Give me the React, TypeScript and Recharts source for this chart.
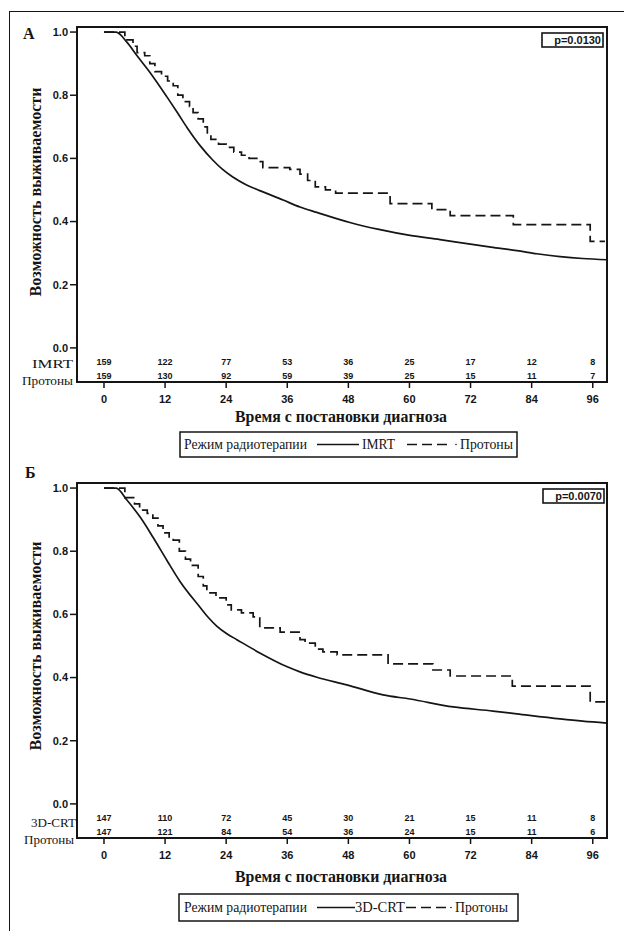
import React from 'react';
import { ComposedChart, Line, Scatter, XAxis, YAxis, ReferenceArea } from 'recharts';

// ---- shared axes ----
const monthTicks = [0, 12, 24, 36, 48, 60, 72, 84, 96];
const survTicks = [0, 0.2, 0.4, 0.6, 0.8, 1.0];

// ---- Panel A: IMRT (solid) ----
const imrtA_t = [0, 2.4, 4.5, 6.5, 9, 12.4, 14.5, 16.3, 19, 21.4, 23.3, 25.3, 28, 30.6, 35.2, 38.5, 41.8, 48.3, 54, 60.1, 66, 71.3, 76, 81.1, 85, 89.6, 94, 98.8];
const imrtA_s = [1, 1, 0.968, 0.925, 0.873, 0.794, 0.743, 0.698, 0.638, 0.594, 0.565, 0.541, 0.516, 0.498, 0.468, 0.446, 0.429, 0.397, 0.375, 0.356, 0.343, 0.33, 0.319, 0.308, 0.298, 0.289, 0.283, 0.279];
// ---- Panel A: Protons (dashed, step) ----
const protA_t = [0, 4.1, 5.7, 6.5, 8.0, 9.0, 10.0, 11.3, 12.5, 13.6, 14.5, 15.5, 16.8, 17.5, 18.5, 19.5, 20.3, 21.0, 22.5, 24.0, 25.5, 27.0, 28.5, 30.5, 31.2, 36.5, 38.5, 40.0, 41.5, 43.5, 45.5, 56.2, 64.4, 68.0, 80.4, 95.5, 98.4];
const protA_s = [1, 0.975, 0.955, 0.935, 0.925, 0.9, 0.875, 0.86, 0.845, 0.83, 0.8, 0.78, 0.765, 0.745, 0.725, 0.7, 0.675, 0.66, 0.645, 0.635, 0.62, 0.61, 0.6, 0.59, 0.571, 0.565, 0.55, 0.53, 0.51, 0.5, 0.49, 0.457, 0.438, 0.419, 0.39, 0.337, 0.337];
const riskA_imrt = [159, 122, 77, 53, 36, 25, 17, 12, 8];
const riskA_prot = [159, 130, 92, 59, 39, 25, 15, 11, 7];

// ---- Panel Б: 3D-CRT (solid) ----
const crtB_t = [0, 2.4, 4.5, 7.1, 9.6, 12.4, 14.9, 18.9, 20.5, 22.2, 24.2, 26.1, 30.6, 36, 38.5, 41.8, 47.7, 54.8, 60.1, 68.6, 76.4, 81.1, 89.6, 94, 98.8];
const crtB_s = [1, 1, 0.962, 0.908, 0.845, 0.77, 0.705, 0.622, 0.59, 0.562, 0.538, 0.52, 0.478, 0.434, 0.418, 0.401, 0.377, 0.345, 0.332, 0.307, 0.294, 0.285, 0.269, 0.262, 0.256];
// ---- Panel Б: Protons (dashed, step) ----
const protB_t = [0, 4.1, 6.0, 7.0, 8.5, 9.6, 10.6, 11.6, 12.8, 13.6, 14.8, 16.0, 17.0, 18.5, 19.5, 20.2, 22.0, 24.0, 25.0, 27.0, 29.3, 30.6, 34.6, 38.5, 39.5, 41.5, 43.0, 45.8, 55.8, 64.6, 68.0, 80.2, 95.5, 98.8];
const protB_s = [1, 0.97, 0.95, 0.93, 0.92, 0.905, 0.88, 0.858, 0.845, 0.835, 0.8, 0.775, 0.755, 0.72, 0.69, 0.668, 0.652, 0.63, 0.614, 0.605, 0.592, 0.557, 0.544, 0.52, 0.509, 0.49, 0.481, 0.472, 0.443, 0.424, 0.405, 0.373, 0.323, 0.323];
const riskB_crt = [147, 110, 72, 45, 30, 21, 15, 11, 8];
const riskB_prot = [147, 121, 84, 54, 36, 24, 15, 11, 6];

const X_MIN = -5.3;
const X_MAX = 98.8;
const Y_MIN = -0.108;
const Y_MAX = 1.016;
const ROW1_Y = -0.044;
const ROW2_Y = -0.089;

const INK = '#151515';
const SANS = '"Liberation Sans", Arial, sans-serif';
const SERIF = '"Liberation Serif", "DejaVu Serif", "Times New Roman", serif';

const zip = (t: number[], s: number[]) => t.map((v, i) => ({ t: v, s: s[i] }));
const riskRow = (n: number[], y: number) => monthTicks.map((m, i) => ({ t: m, y, n: n[i] }));

const RiskText = (props: any) => {
  const { cx, cy, payload } = props;
  if (cx == null || cy == null) return null;
  return (
    <text x={cx} y={cy} textAnchor="middle" dominantBaseline="central" fontFamily={SANS} fontWeight="bold" fontSize={9} fill={INK}>
      {payload.n}
    </text>
  );
};

type PanelProps = {
  solid: { t: number; s: number }[];
  dashed: { t: number; s: number }[];
  row1: number[];
  row2: number[];
};

const Panel = ({ solid, dashed, row1, row2 }: PanelProps) => (
  <ComposedChart width={624} height={430} margin={{ top: 27, right: 17, left: 0, bottom: 18 }}>
    <XAxis
      type="number"
      dataKey="t"
      domain={[X_MIN, X_MAX]}
      ticks={monthTicks}
      allowDataOverflow
      height={30}
      tickSize={6}
      tickMargin={7}
      axisLine={{ stroke: INK, strokeWidth: 2 }}
      tickLine={{ stroke: INK, strokeWidth: 1.5 }}
      tick={{ fontFamily: SANS, fontWeight: 'bold', fontSize: 11, fill: INK }}
    />
    <YAxis
      type="number"
      domain={[Y_MIN, Y_MAX]}
      ticks={survTicks}
      allowDataOverflow
      width={77}
      tickSize={7}
      tickMargin={2}
      tickFormatter={(v: number) => v.toFixed(1)}
      axisLine={{ stroke: INK, strokeWidth: 2 }}
      tickLine={{ stroke: INK, strokeWidth: 1.5 }}
      tick={{ fontFamily: SANS, fontWeight: 'bold', fontSize: 11, fill: INK }}
    />
    <ReferenceArea x1={X_MIN} x2={X_MAX} y1={Y_MIN} y2={Y_MAX} fill="none" fillOpacity={0} stroke={INK} strokeWidth={2} ifOverflow="visible" />
    <Line data={solid} dataKey="s" type="monotone" stroke={INK} strokeWidth={1.7} dot={false} isAnimationActive={false} />
    <Line data={dashed} dataKey="s" type="stepAfter" stroke={INK} strokeWidth={1.7} strokeDasharray="10 5" dot={false} isAnimationActive={false} />
    <Scatter data={riskRow(row1, ROW1_Y)} dataKey="y" shape={RiskText} isAnimationActive={false} />
    <Scatter data={riskRow(row2, ROW2_Y)} dataKey="y" shape={RiskText} isAnimationActive={false} />
  </ComposedChart>
);

type Deco = {
  letter: string; letterX: number; letterY: number;
  titleCY: number;
  pText: string; pX: number; pY: number;
  r1: string; r1X: number; r1Y: number; r1W: number;
  r2X: number; r2Y: number; r2W: number;
  xTitleY: number;
  box: [number, number, number, number];
  solidFrom: number; solidTo: number;
  name: string; nameX: number; nameW: number;
  dashFrom: number; dashTo: number; dotX: number; protX: number;
};

const decoA: Deco = {
  letter: 'А', letterX: 23, letterY: 39, titleCY: 192,
  pText: 'p=0.0130', pX: 542, pY: 33,
  r1: 'IMRT', r1X: 73, r1Y: 364, r1W: 41, r2X: 73, r2Y: 381, r2W: 51,
  xTitleY: 422, box: [180, 432, 337, 25],
  solidFrom: 317, solidTo: 359, name: 'IMRT', nameX: 362, nameW: 33,
  dashFrom: 407, dashTo: 452, dotX: 456, protX: 460,
};
const decoB: Deco = {
  letter: 'Б', letterX: 25, letterY: 478, titleCY: 646,
  pText: 'p=0.0070', pX: 543, pY: 489,
  r1: '3D-CRT', r1X: 76, r1Y: 823, r1W: 45, r2X: 74, r2Y: 840, r2W: 50,
  xTitleY: 882, box: [179, 894, 339, 27],
  solidFrom: 317, solidTo: 355, name: '3D-CRT', nameX: 355, nameW: 50,
  dashFrom: 406, dashTo: 448, dotX: 451, protX: 455,
};

const Decorations = ({ d }: { d: Deco }) => {
  const [bx, by, bw, bh] = d.box;
  const ly = by + bh / 2;
  return (
    <g fill={INK}>
      <text x={d.letterX} y={d.letterY} fontFamily={SERIF} fontWeight="bold" fontSize={16}>{d.letter}</text>
      <text
        x={35} y={d.titleCY}
        transform={`rotate(-90, 35, ${d.titleCY})`}
        textAnchor="middle" dominantBaseline="central"
        fontFamily={SERIF} fontWeight="bold" fontSize={17}
        textLength={209} lengthAdjust="spacingAndGlyphs"
      >Возможность выживаемости</text>
      <rect x={d.pX} y={d.pY} width={61} height={14} fill="#fff" stroke={INK} strokeWidth={1.6} />
      <text x={d.pX + 59} y={d.pY + 11} textAnchor="end" fontFamily={SANS} fontWeight="bold" fontSize={11}>{d.pText}</text>
      <text x={d.r1X} y={d.r1Y} textAnchor="end" dominantBaseline="central" fontFamily={SERIF} fontSize={12.5}
        textLength={d.r1W} lengthAdjust="spacingAndGlyphs">{d.r1}</text>
      <text x={d.r2X} y={d.r2Y} textAnchor="end" dominantBaseline="central" fontFamily={SERIF} fontSize={12.5}
        textLength={d.r2W} lengthAdjust="spacingAndGlyphs">Протоны</text>
      <text x={341} y={d.xTitleY} textAnchor="middle" fontFamily={SERIF} fontWeight="bold" fontSize={16}
        textLength={212} lengthAdjust="spacingAndGlyphs">Время с постановки диагноза</text>
      <rect x={bx} y={by} width={bw} height={bh} fill="#fff" stroke={INK} strokeWidth={1.5} />
      <text x={184} y={ly + 4.5} fontFamily={SERIF} fontSize={14} textLength={123} lengthAdjust="spacingAndGlyphs">Режим радиотерапии</text>
      <line x1={d.solidFrom} x2={d.solidTo} y1={ly} y2={ly} stroke={INK} strokeWidth={1.4} />
      <text x={d.nameX} y={ly + 4.5} fontFamily={SERIF} fontSize={14} textLength={d.nameW} lengthAdjust="spacingAndGlyphs">{d.name}</text>
      <line x1={d.dashFrom} x2={d.dashTo} y1={ly} y2={ly} stroke={INK} strokeWidth={1.4} strokeDasharray="10 5" />
      <circle cx={d.dotX} cy={ly} r={0.8} />
      <text x={d.protX} y={ly + 4.5} fontFamily={SERIF} fontSize={14} textLength={53} lengthAdjust="spacingAndGlyphs">Протоны</text>
    </g>
  );
};

export default function App() {
  return (
    <div style={{ position: 'absolute', left: 0, top: 0, width: 624, height: 931, background: '#fff', overflow: 'hidden' }}>
      <div style={{ position: 'absolute', left: 9, top: 11, width: 640, height: 940, borderLeft: `1.5px solid ${INK}`, borderTop: `1.5px solid ${INK}` }} />
      <div style={{ position: 'absolute', left: 0, top: 0 }}>
        <Panel solid={zip(imrtA_t, imrtA_s)} dashed={zip(protA_t, protA_s)} row1={riskA_imrt} row2={riskA_prot} />
      </div>
      <div style={{ position: 'absolute', left: 0, top: 456 }}>
        <Panel solid={zip(crtB_t, crtB_s)} dashed={zip(protB_t, protB_s)} row1={riskB_crt} row2={riskB_prot} />
      </div>
      <svg width={624} height={931} style={{ position: 'absolute', left: 0, top: 0, pointerEvents: 'none' }}>
        <Decorations d={decoA} />
        <Decorations d={decoB} />
      </svg>
    </div>
  );
}
